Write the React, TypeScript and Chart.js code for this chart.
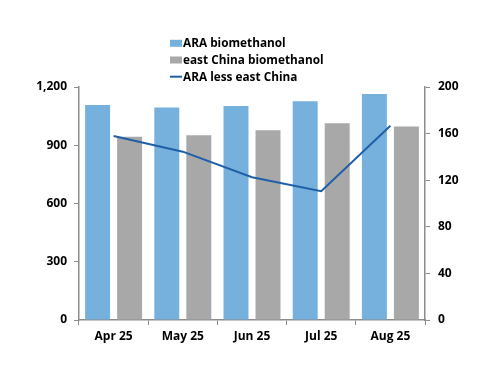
import React, { useEffect, useRef } from "react";
import { Chart, registerables } from "chart.js";

Chart.register(...registerables);

const categories = ["Apr 25", "May 25", "Jun 25", "Jul 25", "Aug 25"];
const araBiomethanol = [1107, 1095, 1102, 1126, 1164];
const eastChinaBiomethanol = [944, 951, 977, 1013, 997];
const araLessEastChina = [158, 144.5, 122.5, 110.5, 166.8];
const leftTicks = [0, 300, 600, 900, 1200];
const rightTicks = [0, 40, 80, 120, 160, 200];

const FONT = "'Open Sans', 'DejaVu Sans', sans-serif";
const AXIS_COLOR = "#8c8c8c";

const legendPlugin = {
  id: "stackedLegend",
  afterDraw(chart: any) {
    const ctx = chart.ctx;
    const x0 = 170;
    const rows = [43.3, 60, 76.7];
    ctx.save();
    ctx.font = `700 11.8px ${FONT}`;
    ctx.textBaseline = "middle";
    ctx.textAlign = "left";
    chart.data.datasets.forEach((ds: any, i: number) => {
      const y = rows[i];
      if (ds.type === "line") {
        ctx.strokeStyle = ds.borderColor;
        ctx.lineWidth = 2;
        ctx.beginPath();
        ctx.moveTo(x0, y);
        ctx.lineTo(x0 + 12, y);
        ctx.stroke();
      } else {
        ctx.fillStyle = ds.backgroundColor;
        ctx.fillRect(x0, y - 3.5, 12, 7);
      }
      ctx.fillStyle = "#000";
      ctx.fillText(ds.label, x0 + 13, y + 0.5);
    });
    ctx.restore();
  },
};

export default function App() {
  const ref = useRef<HTMLCanvasElement | null>(null);
  useEffect(() => {
    document.body.style.margin = "0";
    if (!ref.current) return;
    const chart = new Chart(ref.current, {
      type: "bar",
      data: {
        labels: categories,
        datasets: [
          {
            type: "bar",
            label: "ARA biomethanol",
            data: araBiomethanol,
            backgroundColor: "#76B0DC",
            yAxisID: "y",
            categoryPercentage: 0.925,
            barPercentage: 0.78,
            order: 2,
          },
          {
            type: "bar",
            label: "east China biomethanol",
            data: eastChinaBiomethanol,
            backgroundColor: "#A8A8A8",
            yAxisID: "y",
            categoryPercentage: 0.925,
            barPercentage: 0.78,
            order: 2,
          },
          {
            type: "line",
            label: "ARA less east China",
            data: araLessEastChina,
            borderColor: "#1F5FA8",
            backgroundColor: "#1F5FA8",
            borderWidth: 2,
            pointRadius: 0,
            tension: 0,
            yAxisID: "y1",
            order: 1,
          },
        ] as any,
      },
      options: {
        animation: false,
        responsive: false,
        maintainAspectRatio: false,
        layout: { padding: { top: 87, left: 0, right: 0, bottom: 0 } },
        plugins: { legend: { display: false }, tooltip: { enabled: false } },
        scales: {
          x: {
            offset: true,
            grid: {
              offset: true,
              drawOnChartArea: false,
              drawTicks: true,
              tickLength: 5,
              color: AXIS_COLOR,
            },
            border: { display: true, color: AXIS_COLOR, width: 1.5 },
            ticks: {
              color: "#000",
              font: { family: FONT, size: 12, weight: "700" },
              padding: 4,
              maxRotation: 0,
            },
            afterFit(scale: any) {
              scale.height = 66;
            },
          },
          y: {
            position: "left",
            min: 0,
            max: 1200,
            afterBuildTicks(scale: any) {
              scale.ticks = leftTicks.map((v) => ({ value: v }));
            },
            grid: {
              drawOnChartArea: false,
              drawTicks: true,
              tickLength: 5,
              color: AXIS_COLOR,
            },
            border: { display: true, color: AXIS_COLOR, width: 1.5 },
            ticks: {
              color: "#000",
              font: { family: FONT, size: 12, weight: "700" },
              padding: 7,
              callback: (v: any) => Number(v).toLocaleString("en-US"),
            },
            afterFit(scale: any) {
              scale.width = 79;
            },
          },
          y1: {
            position: "right",
            min: 0,
            max: 200,
            afterBuildTicks(scale: any) {
              scale.ticks = rightTicks.map((v) => ({ value: v }));
            },
            grid: {
              drawOnChartArea: false,
              drawTicks: true,
              tickLength: 5,
              color: AXIS_COLOR,
            },
            border: { display: true, color: AXIS_COLOR, width: 1.5 },
            ticks: {
              color: "#000",
              font: { family: FONT, size: 12, weight: "700" },
              padding: 8,
            },
            afterFit(scale: any) {
              scale.width = 75;
            },
          },
        },
      } as any,
      plugins: [legendPlugin],
    });
    return () => chart.destroy();
  }, []);
  return (
    <div style={{ position: "absolute", left: 0, top: 0, width: 500, height: 386 }}>
      <canvas ref={ref} width={500} height={386} style={{ width: 500, height: 386 }} />
    </div>
  );
}
